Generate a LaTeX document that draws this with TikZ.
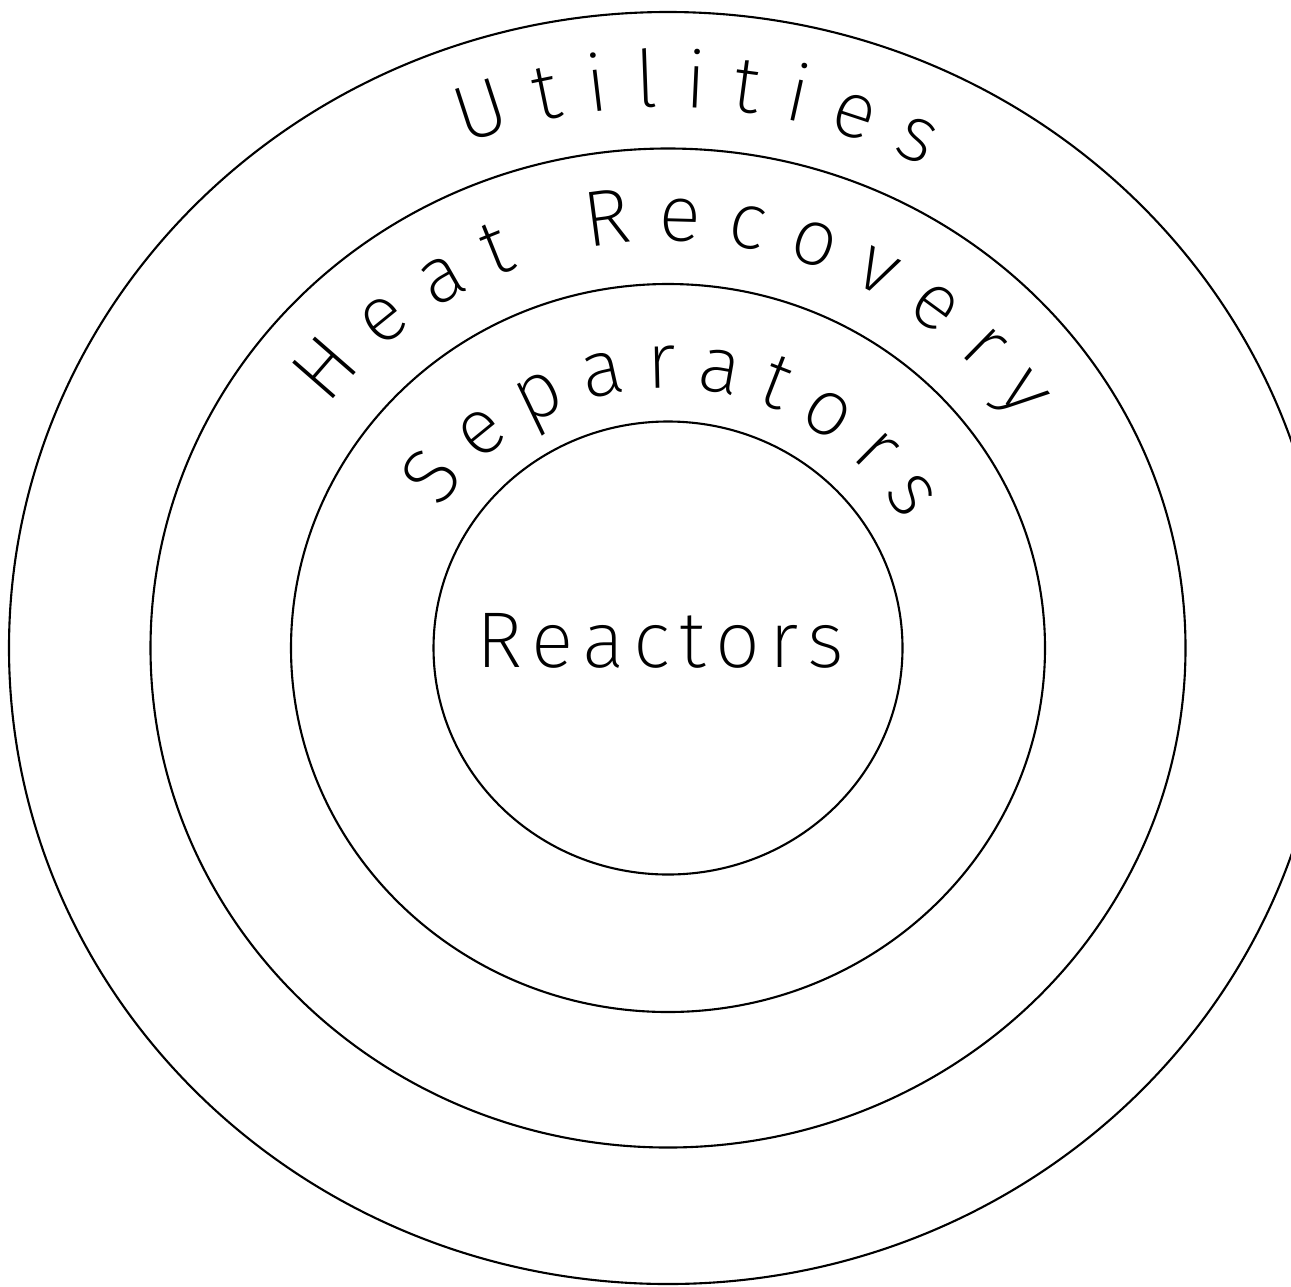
\documentclass[tikz,border=0pt]{standalone}
\usepackage{fontspec}
\newfontfamily\plotfont{Fira Sans ExtraLight}
\usetikzlibrary{decorations.text}
\newcommand\lblfont{\plotfont\fontsize{22.5}{27}\selectfont}
\tikzset{
  ring/.style={draw=black, line width=0.6pt},
  arclabel/.style={decorate, decoration={text along path, text align=fit to path, text={|\lblfont|#1}}}
}
\begin{document}
\begin{tikzpicture}
\path[use as bounding box, clip] (0,0) rectangle (12.91,12.86);
\coordinate (c) at (6.68,6.38);
% rings
\draw[ring] (c) ellipse [x radius=2.345, y radius=2.265];
\draw[ring] (c) ellipse [x radius=3.77, y radius=3.64];
\draw[ring] (c) ellipse [x radius=5.175, y radius=4.995];
\draw[ring] (c) ellipse [x radius=6.59, y radius=6.36];
% labels
\path[arclabel={Utilities}] (c) ++(111.3:5.60 and 5.41) arc [start angle=111.3, end angle=62.7, x radius=5.60, y radius=5.41];
\path[arclabel={Heat Recovery}] (c) ++(143.6:4.22 and 4.07) arc [start angle=143.6, end angle=34, x radius=4.22, y radius=4.07];
\path[arclabel={Separators}] (c) ++(148:2.69 and 2.60) arc [start angle=148, end angle=29, x radius=2.69, y radius=2.60];
\coordinate (rs) at (4.76,6.19);
\coordinate (re) at (8.44,6.19);
\path[arclabel={Reactors}] (rs) -- (re);
\end{tikzpicture}
\end{document}
